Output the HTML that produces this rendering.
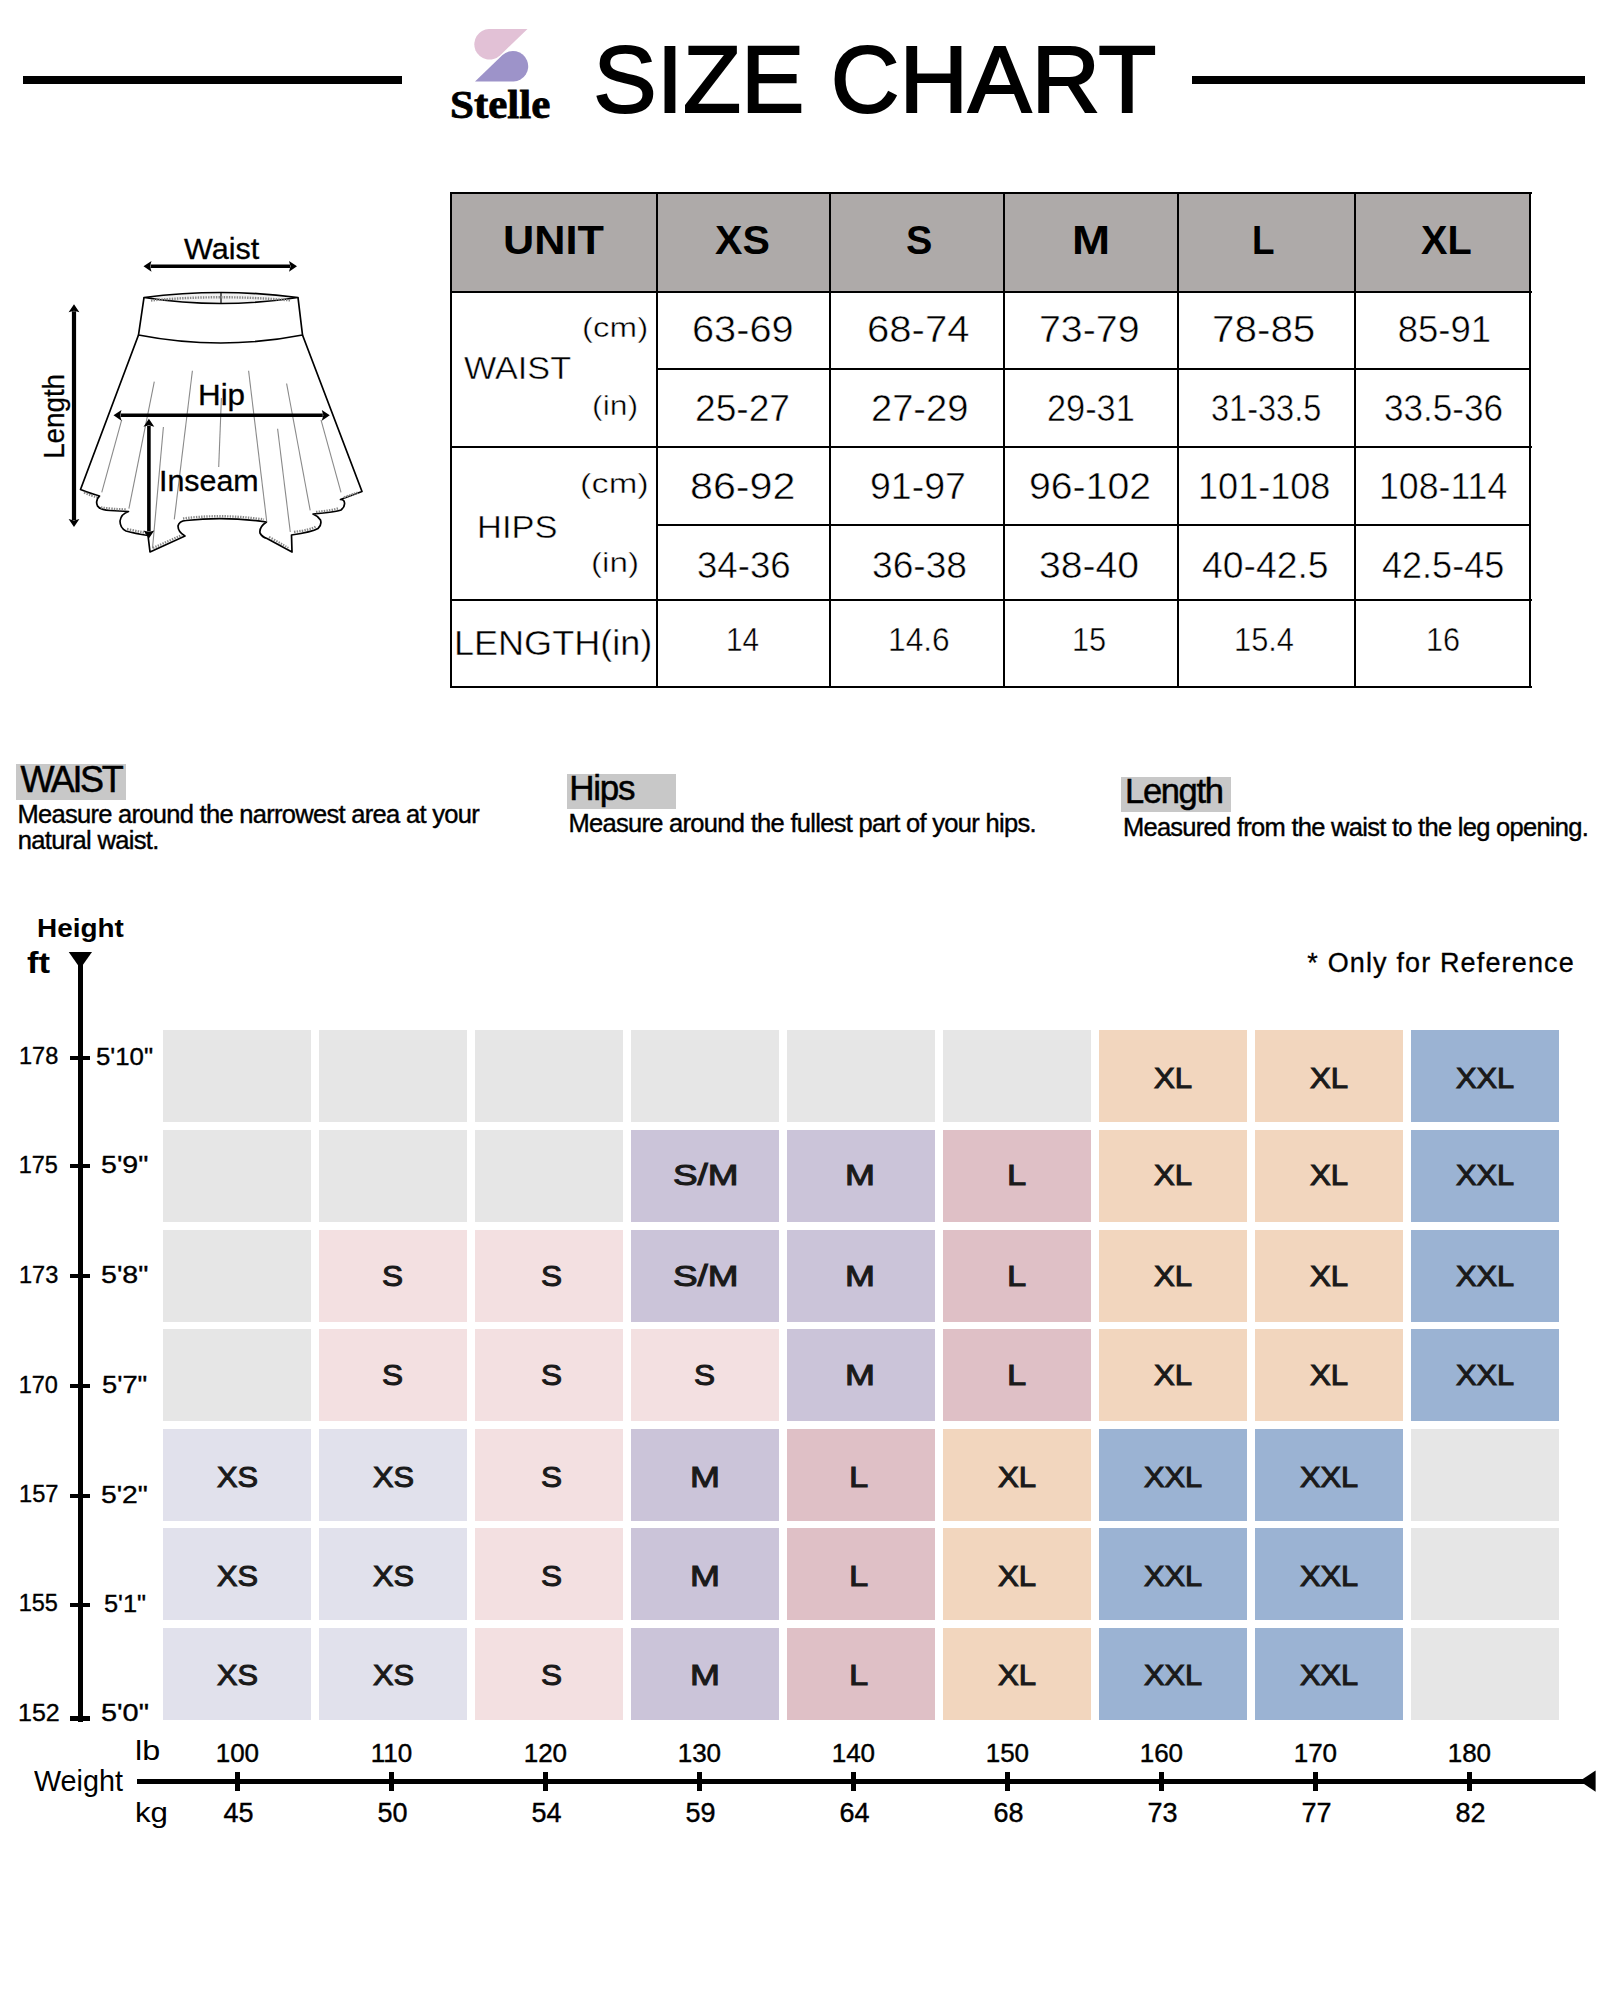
<!DOCTYPE html>
<html><head><meta charset="utf-8"><title>Size Chart</title>
<style>
html,body{margin:0;padding:0;background:#fff;}
body{width:1600px;height:2000px;position:relative;overflow:hidden;font-family:'Liberation Sans', sans-serif;}
.t{position:absolute;line-height:1;white-space:nowrap;}
.r{position:absolute;}
</style></head><body>
<div class="r" style="left:23px;top:76px;width:379px;height:7.5px;background:#000;"></div>
<div class="r" style="left:1192px;top:76px;width:393px;height:7.5px;background:#000;"></div>
<div class="t" style="left:593.33px;top:32.18px;font-size:95px;font-weight:normal;color:#000;font-family:'Liberation Sans', sans-serif;-webkit-text-stroke:2.0px #000;">SIZE CHART</div>
<svg class="r" style="left:0;top:0" width="600" height="130" viewBox="0 0 600 130">
<path d="M489,29 L527.5,29 L500,55.5 A15.3,15.3 0 1 1 489,29 Z" fill="#e2c1d6"/>
<path d="M513.5,81.6 L475,81.6 L502.5,55.1 A15.3,15.3 0 1 1 513.5,81.6 Z" fill="#9d93c9"/>
</svg>
<div class="t" style="left:449.74px;top:83.96px;font-size:41px;font-weight:bold;color:#000;font-family:'Liberation Serif', serif;transform:scaleX(1.0492);transform-origin:0 0;-webkit-text-stroke:0.8px #000;">Stelle</div>
<svg class="r" style="left:0;top:200px" width="420" height="380" viewBox="0 200 420 380">
<g fill="none" stroke="#000" stroke-width="1.7" stroke-linejoin="round">
<path d="M144,297.5 Q221,287.5 298,297.5 Q221,309.5 144,297.5 Z" fill="#f2f2f2"/>
<path d="M144,297.5 L138.5,335 Q221,351 302.5,335 L298,297.5"/>
<path d="M221,292.5 L221,303.5" stroke-width="1.2"/>
<path d="M138.5,335 L80.5,489.5 Q92,494 99.5,496 Q95,500 97.5,506 Q100,510 110,510.5 L128.5,511.5 Q121,514 120,521 Q120,528 126,531 Q135,533.5 148,535.5 L150,552 L185,536 Q178,532 178,526 Q179,521 186,520.5 Q225,516 266.5,522 Q259,527 260,533 Q262,537 267,538.5 L292,552 L291.5,535 Q312,532 318,528.5 Q322,525 320.5,520 Q318,516 313,514 Q336,512 341,510 Q346,506 344,501 Q343,499.5 340.5,499.5 L362,491.5 L302.5,335"/>
</g>
<g fill="none" stroke="#888" stroke-width="2.4" stroke-dasharray="1.4,1.2">
<path d="M151,300.5 Q221,294 291,300.5"/>
<path d="M84,492.5 Q92,496 97,497"/>
<path d="M101,507.5 Q112,509 126,509.5"/>
<path d="M127,529 Q138,531.5 147,533"/>
<path d="M153,548 L182,535"/>
<path d="M183,518.5 Q222,513.5 264,519.5"/>
<path d="M269,537 Q280,543 289,548.5"/>
<path d="M294,532 Q310,530 316,526.5"/>
<path d="M316,512 Q332,510.5 339,508"/>
<path d="M344,497.5 Q352,494.5 358,492.5"/>
</g>
<g fill="none" stroke="#8a8a8a" stroke-width="1.1">
<path d="M154.3,381.7 L128.9,508.6"/>
<path d="M192.4,370.8 L174.3,519.4"/>
<path d="M221.4,398 L218.7,466.9"/>
<path d="M248.6,370.8 L266.7,521.3"/>
<path d="M286.6,383.5 L310.2,510.4"/>
<path d="M121.7,419.8 L101.75,492.3"/>
<path d="M321,419.8 L341,492.3"/>
<path d="M163.4,427 L152.5,548.4"/>
<path d="M277.6,428.8 L290.3,532"/>
</g>
<path d="M150.5,266.3 L290,266.3" stroke="#000" stroke-width="3.4" fill="none"/><path d="M143.5,266.3 L151.5,260.90000000000003 L150.0,266.3 L151.5,271.7 Z" fill="#000"/><path d="M297,266.3 L289,260.90000000000003 L290.5,266.3 L289,271.7 Z" fill="#000"/><path d="M120.5,415.3 L322.8,415.3" stroke="#000" stroke-width="3.6" fill="none"/><path d="M113.5,415.3 L121.5,409.90000000000003 L120.0,415.3 L121.5,420.7 Z" fill="#000"/><path d="M329.8,415.3 L321.8,409.90000000000003 L323.3,415.3 L321.8,420.7 Z" fill="#000"/><path d="M74,311.2 L74,520" stroke="#000" stroke-width="4.2" fill="none"/><path d="M74,304.2 L68.6,312.2 L74,310.7 L79.4,312.2 Z" fill="#000"/><path d="M74,527 L68.6,519 L74,520.5 L79.4,519 Z" fill="#000"/><path d="M148.9,425.8 L148.9,531.5" stroke="#000" stroke-width="3.6" fill="none"/><path d="M148.9,418.8 L143.5,426.8 L148.9,425.3 L154.3,426.8 Z" fill="#000"/><path d="M148.9,538.5 L143.5,530.5 L148.9,532.0 L154.3,530.5 Z" fill="#000"/></svg>
<div class="t" style="left:184.45px;top:234.03px;font-size:29.5px;font-weight:normal;color:#000;font-family:'Liberation Sans', sans-serif;transform:scaleX(1.0349);transform-origin:0 0;-webkit-text-stroke:0.3px #000;">Waist</div>
<div class="t" style="left:198.01px;top:379.73px;font-size:29.5px;font-weight:normal;color:#000;font-family:'Liberation Sans', sans-serif;transform:scaleX(1.0631);transform-origin:0 0;-webkit-text-stroke:0.3px #000;">Hip</div>
<div class="t" style="left:158.79px;top:467.35px;font-size:29px;font-weight:normal;color:#000;font-family:'Liberation Sans', sans-serif;transform:scaleX(1.0480);transform-origin:0 0;-webkit-text-stroke:0.3px #000;">Inseam</div>
<div class="t" style="left:38.70px;top:457.1px;font-size:30px;font-family:'Liberation Sans', sans-serif;transform-origin:0 0;transform:rotate(-90deg) scaleX(0.925) translateX(-2px);-webkit-text-stroke:0.3px #000;">Length</div>
<div class="r" style="left:451px;top:193px;width:1079px;height:99px;background:#aeaaa9;"></div>
<div class="r" style="left:450px;top:192px;width:2px;height:496px;background:#000;"></div>
<div class="r" style="left:656px;top:192px;width:2px;height:496px;background:#000;"></div>
<div class="r" style="left:829px;top:192px;width:2px;height:496px;background:#000;"></div>
<div class="r" style="left:1003px;top:192px;width:2px;height:496px;background:#000;"></div>
<div class="r" style="left:1177px;top:192px;width:2px;height:496px;background:#000;"></div>
<div class="r" style="left:1354px;top:192px;width:2px;height:496px;background:#000;"></div>
<div class="r" style="left:1529px;top:192px;width:2px;height:496px;background:#000;"></div>
<div class="r" style="left:450px;top:192px;width:1082px;height:2px;background:#000;"></div>
<div class="r" style="left:450px;top:291px;width:1082px;height:2px;background:#000;"></div>
<div class="r" style="left:450px;top:446px;width:1082px;height:2px;background:#000;"></div>
<div class="r" style="left:450px;top:599px;width:1082px;height:2px;background:#000;"></div>
<div class="r" style="left:450px;top:686px;width:1082px;height:2px;background:#000;"></div>
<div class="r" style="left:657px;top:368px;width:874px;height:2px;background:#000;"></div>
<div class="r" style="left:657px;top:524px;width:874px;height:2px;background:#000;"></div>
<div class="t" style="left:503.21px;top:220.22px;font-size:40.5px;font-weight:bold;color:#000;font-family:'Liberation Sans', sans-serif;transform:scaleX(1.0673);transform-origin:0 0;">UNIT</div>
<div class="t" style="left:714.79px;top:220.22px;font-size:40.5px;font-weight:bold;color:#000;font-family:'Liberation Sans', sans-serif;transform:scaleX(1.0146);transform-origin:0 0;">XS</div>
<div class="t" style="left:905.72px;top:220.22px;font-size:40.5px;font-weight:bold;color:#000;font-family:'Liberation Sans', sans-serif;transform:scaleX(0.9753);transform-origin:0 0;">S</div>
<div class="t" style="left:1072.11px;top:220.22px;font-size:40.5px;font-weight:bold;color:#000;font-family:'Liberation Sans', sans-serif;transform:scaleX(1.1287);transform-origin:0 0;">M</div>
<div class="t" style="left:1251.71px;top:220.22px;font-size:40.5px;font-weight:bold;color:#000;font-family:'Liberation Sans', sans-serif;transform:scaleX(0.9106);transform-origin:0 0;">L</div>
<div class="t" style="left:1420.50px;top:220.22px;font-size:40.5px;font-weight:bold;color:#000;font-family:'Liberation Sans', sans-serif;transform:scaleX(0.9797);transform-origin:0 0;">XL</div>
<div class="t" style="left:691.51px;top:311.60px;font-size:36.5px;font-weight:normal;color:#000;font-family:'Liberation Sans', sans-serif;transform:scaleX(1.0881);transform-origin:0 0;-webkit-text-stroke:0.5px #fff;">63-69</div>
<div class="t" style="left:867.30px;top:311.60px;font-size:36.5px;font-weight:normal;color:#000;font-family:'Liberation Sans', sans-serif;transform:scaleX(1.0981);transform-origin:0 0;-webkit-text-stroke:0.5px #fff;">68-74</div>
<div class="t" style="left:1039.23px;top:311.60px;font-size:36.5px;font-weight:normal;color:#000;font-family:'Liberation Sans', sans-serif;transform:scaleX(1.0770);transform-origin:0 0;-webkit-text-stroke:0.5px #fff;">73-79</div>
<div class="t" style="left:1212.48px;top:311.60px;font-size:36.5px;font-weight:normal;color:#000;font-family:'Liberation Sans', sans-serif;transform:scaleX(1.1070);transform-origin:0 0;-webkit-text-stroke:0.5px #fff;">78-85</div>
<div class="t" style="left:1397.75px;top:311.60px;font-size:36.5px;font-weight:normal;color:#000;font-family:'Liberation Sans', sans-serif;-webkit-text-stroke:0.5px #fff;">85-91</div>
<div class="t" style="left:694.54px;top:390.60px;font-size:36.5px;font-weight:normal;color:#000;font-family:'Liberation Sans', sans-serif;transform:scaleX(1.0179);transform-origin:0 0;-webkit-text-stroke:0.5px #fff;">25-27</div>
<div class="t" style="left:871.10px;top:390.60px;font-size:36.5px;font-weight:normal;color:#000;font-family:'Liberation Sans', sans-serif;transform:scaleX(1.0436);transform-origin:0 0;-webkit-text-stroke:0.5px #fff;">27-29</div>
<div class="t" style="left:1046.98px;top:390.60px;font-size:36.5px;font-weight:normal;color:#000;font-family:'Liberation Sans', sans-serif;transform:scaleX(0.9400);transform-origin:0 0;-webkit-text-stroke:0.5px #fff;">29-31</div>
<div class="t" style="left:1210.58px;top:390.60px;font-size:36.5px;font-weight:normal;color:#000;font-family:'Liberation Sans', sans-serif;transform:scaleX(0.8908);transform-origin:0 0;-webkit-text-stroke:0.5px #fff;">31-33.5</div>
<div class="t" style="left:1384.18px;top:390.60px;font-size:36.5px;font-weight:normal;color:#000;font-family:'Liberation Sans', sans-serif;transform:scaleX(0.9618);transform-origin:0 0;-webkit-text-stroke:0.5px #fff;">33.5-36</div>
<div class="t" style="left:690.25px;top:468.60px;font-size:36.5px;font-weight:normal;color:#000;font-family:'Liberation Sans', sans-serif;transform:scaleX(1.1292);transform-origin:0 0;-webkit-text-stroke:0.5px #fff;">86-92</div>
<div class="t" style="left:870.22px;top:468.60px;font-size:36.5px;font-weight:normal;color:#000;font-family:'Liberation Sans', sans-serif;transform:scaleX(1.0268);transform-origin:0 0;-webkit-text-stroke:0.5px #fff;">91-97</div>
<div class="t" style="left:1028.54px;top:468.60px;font-size:36.5px;font-weight:normal;color:#000;font-family:'Liberation Sans', sans-serif;transform:scaleX(1.0732);transform-origin:0 0;-webkit-text-stroke:0.5px #fff;">96-102</div>
<div class="t" style="left:1198.09px;top:468.60px;font-size:36.5px;font-weight:normal;color:#000;font-family:'Liberation Sans', sans-serif;transform:scaleX(0.9887);transform-origin:0 0;-webkit-text-stroke:0.5px #fff;">101-108</div>
<div class="t" style="left:1378.72px;top:468.60px;font-size:36.5px;font-weight:normal;color:#000;font-family:'Liberation Sans', sans-serif;transform:scaleX(0.9774);transform-origin:0 0;-webkit-text-stroke:0.5px #fff;">108-114</div>
<div class="t" style="left:696.63px;top:548.40px;font-size:36.5px;font-weight:normal;color:#000;font-family:'Liberation Sans', sans-serif;transform:scaleX(1.0030);transform-origin:0 0;-webkit-text-stroke:0.5px #fff;">34-36</div>
<div class="t" style="left:871.61px;top:548.40px;font-size:36.5px;font-weight:normal;color:#000;font-family:'Liberation Sans', sans-serif;transform:scaleX(1.0174);transform-origin:0 0;-webkit-text-stroke:0.5px #fff;">36-38</div>
<div class="t" style="left:1039.03px;top:548.40px;font-size:36.5px;font-weight:normal;color:#000;font-family:'Liberation Sans', sans-serif;transform:scaleX(1.0727);transform-origin:0 0;-webkit-text-stroke:0.5px #fff;">38-40</div>
<div class="t" style="left:1201.66px;top:548.40px;font-size:36.5px;font-weight:normal;color:#000;font-family:'Liberation Sans', sans-serif;transform:scaleX(1.0226);transform-origin:0 0;-webkit-text-stroke:0.5px #fff;">40-42.5</div>
<div class="t" style="left:1382.19px;top:548.40px;font-size:36.5px;font-weight:normal;color:#000;font-family:'Liberation Sans', sans-serif;transform:scaleX(0.9872);transform-origin:0 0;-webkit-text-stroke:0.5px #fff;">42.5-45</div>
<div class="t" style="left:726.47px;top:623.99px;font-size:32.5px;font-weight:normal;color:#000;font-family:'Liberation Sans', sans-serif;transform:scaleX(0.9162);transform-origin:0 0;-webkit-text-stroke:0.45px #fff;">14</div>
<div class="t" style="left:887.62px;top:623.99px;font-size:32.5px;font-weight:normal;color:#000;font-family:'Liberation Sans', sans-serif;transform:scaleX(0.9765);transform-origin:0 0;-webkit-text-stroke:0.45px #fff;">14.6</div>
<div class="t" style="left:1071.69px;top:623.99px;font-size:32.5px;font-weight:normal;color:#000;font-family:'Liberation Sans', sans-serif;transform:scaleX(0.9463);transform-origin:0 0;-webkit-text-stroke:0.45px #fff;">15</div>
<div class="t" style="left:1233.89px;top:623.99px;font-size:32.5px;font-weight:normal;color:#000;font-family:'Liberation Sans', sans-serif;transform:scaleX(0.9485);transform-origin:0 0;-webkit-text-stroke:0.45px #fff;">15.4</div>
<div class="t" style="left:1426.30px;top:623.99px;font-size:32.5px;font-weight:normal;color:#000;font-family:'Liberation Sans', sans-serif;transform:scaleX(0.9425);transform-origin:0 0;-webkit-text-stroke:0.45px #fff;">16</div>
<div class="t" style="left:464.23px;top:351.61px;font-size:32px;font-weight:normal;color:#000;font-family:'Liberation Sans', sans-serif;transform:scaleX(1.0696);transform-origin:0 0;-webkit-text-stroke:0.45px #fff;">WAIST</div>
<div class="t" style="left:476.56px;top:511.11px;font-size:32px;font-weight:normal;color:#000;font-family:'Liberation Sans', sans-serif;transform:scaleX(1.0773);transform-origin:0 0;-webkit-text-stroke:0.45px #fff;">HIPS</div>
<div class="t" style="left:582.23px;top:313.52px;font-size:27.5px;font-weight:normal;color:#000;font-family:'Liberation Sans', sans-serif;transform:scaleX(1.2044);transform-origin:0 0;-webkit-text-stroke:0.45px #fff;">(cm)</div>
<div class="t" style="left:592.41px;top:391.52px;font-size:27.5px;font-weight:normal;color:#000;font-family:'Liberation Sans', sans-serif;transform:scaleX(1.1603);transform-origin:0 0;-webkit-text-stroke:0.45px #fff;">(in)</div>
<div class="t" style="left:580.35px;top:470.22px;font-size:27.5px;font-weight:normal;color:#000;font-family:'Liberation Sans', sans-serif;transform:scaleX(1.2509);transform-origin:0 0;-webkit-text-stroke:0.45px #fff;">(cm)</div>
<div class="t" style="left:590.93px;top:549.22px;font-size:27.5px;font-weight:normal;color:#000;font-family:'Liberation Sans', sans-serif;transform:scaleX(1.2071);transform-origin:0 0;-webkit-text-stroke:0.45px #fff;">(in)</div>
<div class="t" style="left:453.93px;top:624.87px;font-size:35px;font-weight:normal;color:#000;font-family:'Liberation Sans', sans-serif;transform:scaleX(1.0298);transform-origin:0 0;-webkit-text-stroke:0.45px #fff;">LENGTH(in)</div>
<div class="r" style="left:16px;top:763.5px;width:110px;height:36px;background:#c8c8c8;"></div>
<div class="t" style="left:20.42px;top:762.43px;font-size:36px;font-weight:normal;color:#000;font-family:'Liberation Sans', sans-serif;letter-spacing:-2.325px;-webkit-text-stroke:0.5px #000;">WAIST</div>
<div class="t" style="left:17.40px;top:802.41px;font-size:25.5px;font-weight:normal;color:#000;font-family:'Liberation Sans', sans-serif;letter-spacing:-0.704px;-webkit-text-stroke:0.4px #000;">Measure around the narrowest area at your</div>
<div class="t" style="left:17.78px;top:827.61px;font-size:25.5px;font-weight:normal;color:#000;font-family:'Liberation Sans', sans-serif;letter-spacing:-0.673px;-webkit-text-stroke:0.4px #000;">natural waist.</div>
<div class="r" style="left:567px;top:774px;width:109px;height:35px;background:#c8c8c8;"></div>
<div class="t" style="left:569.31px;top:770.47px;font-size:35px;font-weight:normal;color:#000;font-family:'Liberation Sans', sans-serif;letter-spacing:-1.263px;-webkit-text-stroke:0.5px #000;">Hips</div>
<div class="t" style="left:568.40px;top:811.41px;font-size:25.5px;font-weight:normal;color:#000;font-family:'Liberation Sans', sans-serif;letter-spacing:-0.699px;-webkit-text-stroke:0.4px #000;">Measure around the fullest part of your hips.</div>
<div class="r" style="left:1121px;top:777px;width:110px;height:35px;background:#c8c8c8;"></div>
<div class="t" style="left:1125.05px;top:773.70px;font-size:34.5px;font-weight:normal;color:#000;font-family:'Liberation Sans', sans-serif;letter-spacing:-1.336px;-webkit-text-stroke:0.5px #000;">Length</div>
<div class="t" style="left:1122.90px;top:815.41px;font-size:25.5px;font-weight:normal;color:#000;font-family:'Liberation Sans', sans-serif;letter-spacing:-0.719px;-webkit-text-stroke:0.4px #000;">Measured from the waist to the leg opening.</div>
<div class="t" style="left:36.87px;top:915.74px;font-size:25px;font-weight:bold;color:#000;font-family:'Liberation Sans', sans-serif;transform:scaleX(1.1162);transform-origin:0 0;">Height</div>
<div class="t" style="left:27.39px;top:948.36px;font-size:30px;font-weight:bold;color:#000;font-family:'Liberation Sans', sans-serif;transform:scaleX(1.1549);transform-origin:0 0;">ft</div>
<div class="t" style="left:1307.33px;top:949.64px;font-size:27px;font-weight:normal;color:#000;font-family:'Liberation Sans', sans-serif;letter-spacing:1.146px;-webkit-text-stroke:0.3px #000;">* Only for Reference</div>
<div class="r" style="left:163px;top:1030px;width:148px;height:92px;background:#e6e6e6;"></div>
<div class="r" style="left:319px;top:1030px;width:148px;height:92px;background:#e6e6e6;"></div>
<div class="r" style="left:475px;top:1030px;width:148px;height:92px;background:#e6e6e6;"></div>
<div class="r" style="left:631px;top:1030px;width:148px;height:92px;background:#e6e6e6;"></div>
<div class="r" style="left:787px;top:1030px;width:148px;height:92px;background:#e6e6e6;"></div>
<div class="r" style="left:943px;top:1030px;width:148px;height:92px;background:#e6e6e6;"></div>
<div class="r" style="left:1099px;top:1030px;width:148px;height:92px;background:#f2d6be;"></div>
<div class="t" style="left:1154.10px;top:1062.83px;font-size:29.5px;font-weight:normal;color:#1a1a1a;font-family:'Liberation Sans', sans-serif;transform:scaleX(1.0569);transform-origin:0 0;-webkit-text-stroke:1.05px #1a1a1a;">XL</div>
<div class="r" style="left:1255px;top:1030px;width:148px;height:92px;background:#f2d6be;"></div>
<div class="t" style="left:1310.10px;top:1062.83px;font-size:29.5px;font-weight:normal;color:#1a1a1a;font-family:'Liberation Sans', sans-serif;transform:scaleX(1.0569);transform-origin:0 0;-webkit-text-stroke:1.05px #1a1a1a;">XL</div>
<div class="r" style="left:1411px;top:1030px;width:148px;height:92px;background:#9bb3d3;"></div>
<div class="t" style="left:1456.06px;top:1062.83px;font-size:29.5px;font-weight:normal;color:#1a1a1a;font-family:'Liberation Sans', sans-serif;transform:scaleX(1.0437);transform-origin:0 0;-webkit-text-stroke:1.05px #1a1a1a;">XXL</div>
<div class="r" style="left:163px;top:1129.5px;width:148px;height:92px;background:#e6e6e6;"></div>
<div class="r" style="left:319px;top:1129.5px;width:148px;height:92px;background:#e6e6e6;"></div>
<div class="r" style="left:475px;top:1129.5px;width:148px;height:92px;background:#e6e6e6;"></div>
<div class="r" style="left:631px;top:1129.5px;width:148px;height:92px;background:#cbc4d9;"></div>
<div class="t" style="left:672.89px;top:1160.33px;font-size:29.5px;font-weight:normal;color:#1a1a1a;font-family:'Liberation Sans', sans-serif;transform:scaleX(1.2512);transform-origin:0 0;-webkit-text-stroke:1.05px #1a1a1a;">S/M</div>
<div class="r" style="left:787px;top:1129.5px;width:148px;height:92px;background:#cbc4d9;"></div>
<div class="t" style="left:844.53px;top:1160.33px;font-size:29.5px;font-weight:normal;color:#1a1a1a;font-family:'Liberation Sans', sans-serif;transform:scaleX(1.2188);transform-origin:0 0;-webkit-text-stroke:1.05px #1a1a1a;">M</div>
<div class="r" style="left:943px;top:1129.5px;width:148px;height:92px;background:#dfc0c6;"></div>
<div class="t" style="left:1006.55px;top:1160.33px;font-size:29.5px;font-weight:normal;color:#1a1a1a;font-family:'Liberation Sans', sans-serif;transform:scaleX(1.1710);transform-origin:0 0;-webkit-text-stroke:1.05px #1a1a1a;">L</div>
<div class="r" style="left:1099px;top:1129.5px;width:148px;height:92px;background:#f2d6be;"></div>
<div class="t" style="left:1154.10px;top:1160.33px;font-size:29.5px;font-weight:normal;color:#1a1a1a;font-family:'Liberation Sans', sans-serif;transform:scaleX(1.0569);transform-origin:0 0;-webkit-text-stroke:1.05px #1a1a1a;">XL</div>
<div class="r" style="left:1255px;top:1129.5px;width:148px;height:92px;background:#f2d6be;"></div>
<div class="t" style="left:1310.10px;top:1160.33px;font-size:29.5px;font-weight:normal;color:#1a1a1a;font-family:'Liberation Sans', sans-serif;transform:scaleX(1.0569);transform-origin:0 0;-webkit-text-stroke:1.05px #1a1a1a;">XL</div>
<div class="r" style="left:1411px;top:1129.5px;width:148px;height:92px;background:#9bb3d3;"></div>
<div class="t" style="left:1456.06px;top:1160.33px;font-size:29.5px;font-weight:normal;color:#1a1a1a;font-family:'Liberation Sans', sans-serif;transform:scaleX(1.0437);transform-origin:0 0;-webkit-text-stroke:1.05px #1a1a1a;">XXL</div>
<div class="r" style="left:163px;top:1229.5px;width:148px;height:92px;background:#e6e6e6;"></div>
<div class="r" style="left:319px;top:1229.5px;width:148px;height:92px;background:#f3e0e1;"></div>
<div class="t" style="left:382.48px;top:1261.43px;font-size:29.5px;font-weight:normal;color:#1a1a1a;font-family:'Liberation Sans', sans-serif;transform:scaleX(1.0683);transform-origin:0 0;-webkit-text-stroke:1.05px #1a1a1a;">S</div>
<div class="r" style="left:475px;top:1229.5px;width:148px;height:92px;background:#f3e0e1;"></div>
<div class="t" style="left:540.98px;top:1261.43px;font-size:29.5px;font-weight:normal;color:#1a1a1a;font-family:'Liberation Sans', sans-serif;transform:scaleX(1.0683);transform-origin:0 0;-webkit-text-stroke:1.05px #1a1a1a;">S</div>
<div class="r" style="left:631px;top:1229.5px;width:148px;height:92px;background:#cbc4d9;"></div>
<div class="t" style="left:672.89px;top:1261.43px;font-size:29.5px;font-weight:normal;color:#1a1a1a;font-family:'Liberation Sans', sans-serif;transform:scaleX(1.2512);transform-origin:0 0;-webkit-text-stroke:1.05px #1a1a1a;">S/M</div>
<div class="r" style="left:787px;top:1229.5px;width:148px;height:92px;background:#cbc4d9;"></div>
<div class="t" style="left:844.53px;top:1261.43px;font-size:29.5px;font-weight:normal;color:#1a1a1a;font-family:'Liberation Sans', sans-serif;transform:scaleX(1.2188);transform-origin:0 0;-webkit-text-stroke:1.05px #1a1a1a;">M</div>
<div class="r" style="left:943px;top:1229.5px;width:148px;height:92px;background:#dfc0c6;"></div>
<div class="t" style="left:1006.55px;top:1261.43px;font-size:29.5px;font-weight:normal;color:#1a1a1a;font-family:'Liberation Sans', sans-serif;transform:scaleX(1.1710);transform-origin:0 0;-webkit-text-stroke:1.05px #1a1a1a;">L</div>
<div class="r" style="left:1099px;top:1229.5px;width:148px;height:92px;background:#f2d6be;"></div>
<div class="t" style="left:1154.10px;top:1261.43px;font-size:29.5px;font-weight:normal;color:#1a1a1a;font-family:'Liberation Sans', sans-serif;transform:scaleX(1.0569);transform-origin:0 0;-webkit-text-stroke:1.05px #1a1a1a;">XL</div>
<div class="r" style="left:1255px;top:1229.5px;width:148px;height:92px;background:#f2d6be;"></div>
<div class="t" style="left:1310.10px;top:1261.43px;font-size:29.5px;font-weight:normal;color:#1a1a1a;font-family:'Liberation Sans', sans-serif;transform:scaleX(1.0569);transform-origin:0 0;-webkit-text-stroke:1.05px #1a1a1a;">XL</div>
<div class="r" style="left:1411px;top:1229.5px;width:148px;height:92px;background:#9bb3d3;"></div>
<div class="t" style="left:1456.06px;top:1261.43px;font-size:29.5px;font-weight:normal;color:#1a1a1a;font-family:'Liberation Sans', sans-serif;transform:scaleX(1.0437);transform-origin:0 0;-webkit-text-stroke:1.05px #1a1a1a;">XXL</div>
<div class="r" style="left:163px;top:1329.2px;width:148px;height:92px;background:#e6e6e6;"></div>
<div class="r" style="left:319px;top:1329.2px;width:148px;height:92px;background:#f3e0e1;"></div>
<div class="t" style="left:382.48px;top:1360.03px;font-size:29.5px;font-weight:normal;color:#1a1a1a;font-family:'Liberation Sans', sans-serif;transform:scaleX(1.0683);transform-origin:0 0;-webkit-text-stroke:1.05px #1a1a1a;">S</div>
<div class="r" style="left:475px;top:1329.2px;width:148px;height:92px;background:#f3e0e1;"></div>
<div class="t" style="left:540.98px;top:1360.03px;font-size:29.5px;font-weight:normal;color:#1a1a1a;font-family:'Liberation Sans', sans-serif;transform:scaleX(1.0683);transform-origin:0 0;-webkit-text-stroke:1.05px #1a1a1a;">S</div>
<div class="r" style="left:631px;top:1329.2px;width:148px;height:92px;background:#f3e0e1;"></div>
<div class="t" style="left:694.48px;top:1360.03px;font-size:29.5px;font-weight:normal;color:#1a1a1a;font-family:'Liberation Sans', sans-serif;transform:scaleX(1.0683);transform-origin:0 0;-webkit-text-stroke:1.05px #1a1a1a;">S</div>
<div class="r" style="left:787px;top:1329.2px;width:148px;height:92px;background:#cbc4d9;"></div>
<div class="t" style="left:844.53px;top:1360.03px;font-size:29.5px;font-weight:normal;color:#1a1a1a;font-family:'Liberation Sans', sans-serif;transform:scaleX(1.2188);transform-origin:0 0;-webkit-text-stroke:1.05px #1a1a1a;">M</div>
<div class="r" style="left:943px;top:1329.2px;width:148px;height:92px;background:#dfc0c6;"></div>
<div class="t" style="left:1006.55px;top:1360.03px;font-size:29.5px;font-weight:normal;color:#1a1a1a;font-family:'Liberation Sans', sans-serif;transform:scaleX(1.1710);transform-origin:0 0;-webkit-text-stroke:1.05px #1a1a1a;">L</div>
<div class="r" style="left:1099px;top:1329.2px;width:148px;height:92px;background:#f2d6be;"></div>
<div class="t" style="left:1154.10px;top:1360.03px;font-size:29.5px;font-weight:normal;color:#1a1a1a;font-family:'Liberation Sans', sans-serif;transform:scaleX(1.0569);transform-origin:0 0;-webkit-text-stroke:1.05px #1a1a1a;">XL</div>
<div class="r" style="left:1255px;top:1329.2px;width:148px;height:92px;background:#f2d6be;"></div>
<div class="t" style="left:1310.10px;top:1360.03px;font-size:29.5px;font-weight:normal;color:#1a1a1a;font-family:'Liberation Sans', sans-serif;transform:scaleX(1.0569);transform-origin:0 0;-webkit-text-stroke:1.05px #1a1a1a;">XL</div>
<div class="r" style="left:1411px;top:1329.2px;width:148px;height:92px;background:#9bb3d3;"></div>
<div class="t" style="left:1456.06px;top:1360.03px;font-size:29.5px;font-weight:normal;color:#1a1a1a;font-family:'Liberation Sans', sans-serif;transform:scaleX(1.0437);transform-origin:0 0;-webkit-text-stroke:1.05px #1a1a1a;">XXL</div>
<div class="r" style="left:163px;top:1429.2px;width:148px;height:92px;background:#e1e1ec;"></div>
<div class="t" style="left:216.81px;top:1462.03px;font-size:29.5px;font-weight:normal;color:#1a1a1a;font-family:'Liberation Sans', sans-serif;transform:scaleX(1.0430);transform-origin:0 0;-webkit-text-stroke:1.05px #1a1a1a;">XS</div>
<div class="r" style="left:319px;top:1429.2px;width:148px;height:92px;background:#e1e1ec;"></div>
<div class="t" style="left:372.81px;top:1462.03px;font-size:29.5px;font-weight:normal;color:#1a1a1a;font-family:'Liberation Sans', sans-serif;transform:scaleX(1.0430);transform-origin:0 0;-webkit-text-stroke:1.05px #1a1a1a;">XS</div>
<div class="r" style="left:475px;top:1429.2px;width:148px;height:92px;background:#f3e0e1;"></div>
<div class="t" style="left:540.98px;top:1462.03px;font-size:29.5px;font-weight:normal;color:#1a1a1a;font-family:'Liberation Sans', sans-serif;transform:scaleX(1.0683);transform-origin:0 0;-webkit-text-stroke:1.05px #1a1a1a;">S</div>
<div class="r" style="left:631px;top:1429.2px;width:148px;height:92px;background:#cbc4d9;"></div>
<div class="t" style="left:690.03px;top:1462.03px;font-size:29.5px;font-weight:normal;color:#1a1a1a;font-family:'Liberation Sans', sans-serif;transform:scaleX(1.2188);transform-origin:0 0;-webkit-text-stroke:1.05px #1a1a1a;">M</div>
<div class="r" style="left:787px;top:1429.2px;width:148px;height:92px;background:#dfc0c6;"></div>
<div class="t" style="left:849.05px;top:1462.03px;font-size:29.5px;font-weight:normal;color:#1a1a1a;font-family:'Liberation Sans', sans-serif;transform:scaleX(1.1710);transform-origin:0 0;-webkit-text-stroke:1.05px #1a1a1a;">L</div>
<div class="r" style="left:943px;top:1429.2px;width:148px;height:92px;background:#f2d6be;"></div>
<div class="t" style="left:998.10px;top:1462.03px;font-size:29.5px;font-weight:normal;color:#1a1a1a;font-family:'Liberation Sans', sans-serif;transform:scaleX(1.0569);transform-origin:0 0;-webkit-text-stroke:1.05px #1a1a1a;">XL</div>
<div class="r" style="left:1099px;top:1429.2px;width:148px;height:92px;background:#9bb3d3;"></div>
<div class="t" style="left:1144.06px;top:1462.03px;font-size:29.5px;font-weight:normal;color:#1a1a1a;font-family:'Liberation Sans', sans-serif;transform:scaleX(1.0437);transform-origin:0 0;-webkit-text-stroke:1.05px #1a1a1a;">XXL</div>
<div class="r" style="left:1255px;top:1429.2px;width:148px;height:92px;background:#9bb3d3;"></div>
<div class="t" style="left:1300.06px;top:1462.03px;font-size:29.5px;font-weight:normal;color:#1a1a1a;font-family:'Liberation Sans', sans-serif;transform:scaleX(1.0437);transform-origin:0 0;-webkit-text-stroke:1.05px #1a1a1a;">XXL</div>
<div class="r" style="left:1411px;top:1429.2px;width:148px;height:92px;background:#e6e6e6;"></div>
<div class="r" style="left:163px;top:1528.2px;width:148px;height:92px;background:#e1e1ec;"></div>
<div class="t" style="left:216.81px;top:1560.83px;font-size:29.5px;font-weight:normal;color:#1a1a1a;font-family:'Liberation Sans', sans-serif;transform:scaleX(1.0430);transform-origin:0 0;-webkit-text-stroke:1.05px #1a1a1a;">XS</div>
<div class="r" style="left:319px;top:1528.2px;width:148px;height:92px;background:#e1e1ec;"></div>
<div class="t" style="left:372.81px;top:1560.83px;font-size:29.5px;font-weight:normal;color:#1a1a1a;font-family:'Liberation Sans', sans-serif;transform:scaleX(1.0430);transform-origin:0 0;-webkit-text-stroke:1.05px #1a1a1a;">XS</div>
<div class="r" style="left:475px;top:1528.2px;width:148px;height:92px;background:#f3e0e1;"></div>
<div class="t" style="left:540.98px;top:1560.83px;font-size:29.5px;font-weight:normal;color:#1a1a1a;font-family:'Liberation Sans', sans-serif;transform:scaleX(1.0683);transform-origin:0 0;-webkit-text-stroke:1.05px #1a1a1a;">S</div>
<div class="r" style="left:631px;top:1528.2px;width:148px;height:92px;background:#cbc4d9;"></div>
<div class="t" style="left:690.03px;top:1560.83px;font-size:29.5px;font-weight:normal;color:#1a1a1a;font-family:'Liberation Sans', sans-serif;transform:scaleX(1.2188);transform-origin:0 0;-webkit-text-stroke:1.05px #1a1a1a;">M</div>
<div class="r" style="left:787px;top:1528.2px;width:148px;height:92px;background:#dfc0c6;"></div>
<div class="t" style="left:849.05px;top:1560.83px;font-size:29.5px;font-weight:normal;color:#1a1a1a;font-family:'Liberation Sans', sans-serif;transform:scaleX(1.1710);transform-origin:0 0;-webkit-text-stroke:1.05px #1a1a1a;">L</div>
<div class="r" style="left:943px;top:1528.2px;width:148px;height:92px;background:#f2d6be;"></div>
<div class="t" style="left:998.10px;top:1560.83px;font-size:29.5px;font-weight:normal;color:#1a1a1a;font-family:'Liberation Sans', sans-serif;transform:scaleX(1.0569);transform-origin:0 0;-webkit-text-stroke:1.05px #1a1a1a;">XL</div>
<div class="r" style="left:1099px;top:1528.2px;width:148px;height:92px;background:#9bb3d3;"></div>
<div class="t" style="left:1144.06px;top:1560.83px;font-size:29.5px;font-weight:normal;color:#1a1a1a;font-family:'Liberation Sans', sans-serif;transform:scaleX(1.0437);transform-origin:0 0;-webkit-text-stroke:1.05px #1a1a1a;">XXL</div>
<div class="r" style="left:1255px;top:1528.2px;width:148px;height:92px;background:#9bb3d3;"></div>
<div class="t" style="left:1300.06px;top:1560.83px;font-size:29.5px;font-weight:normal;color:#1a1a1a;font-family:'Liberation Sans', sans-serif;transform:scaleX(1.0437);transform-origin:0 0;-webkit-text-stroke:1.05px #1a1a1a;">XXL</div>
<div class="r" style="left:1411px;top:1528.2px;width:148px;height:92px;background:#e6e6e6;"></div>
<div class="r" style="left:163px;top:1628px;width:148px;height:92px;background:#e1e1ec;"></div>
<div class="t" style="left:216.81px;top:1659.73px;font-size:29.5px;font-weight:normal;color:#1a1a1a;font-family:'Liberation Sans', sans-serif;transform:scaleX(1.0430);transform-origin:0 0;-webkit-text-stroke:1.05px #1a1a1a;">XS</div>
<div class="r" style="left:319px;top:1628px;width:148px;height:92px;background:#e1e1ec;"></div>
<div class="t" style="left:372.81px;top:1659.73px;font-size:29.5px;font-weight:normal;color:#1a1a1a;font-family:'Liberation Sans', sans-serif;transform:scaleX(1.0430);transform-origin:0 0;-webkit-text-stroke:1.05px #1a1a1a;">XS</div>
<div class="r" style="left:475px;top:1628px;width:148px;height:92px;background:#f3e0e1;"></div>
<div class="t" style="left:540.98px;top:1659.73px;font-size:29.5px;font-weight:normal;color:#1a1a1a;font-family:'Liberation Sans', sans-serif;transform:scaleX(1.0683);transform-origin:0 0;-webkit-text-stroke:1.05px #1a1a1a;">S</div>
<div class="r" style="left:631px;top:1628px;width:148px;height:92px;background:#cbc4d9;"></div>
<div class="t" style="left:690.03px;top:1659.73px;font-size:29.5px;font-weight:normal;color:#1a1a1a;font-family:'Liberation Sans', sans-serif;transform:scaleX(1.2188);transform-origin:0 0;-webkit-text-stroke:1.05px #1a1a1a;">M</div>
<div class="r" style="left:787px;top:1628px;width:148px;height:92px;background:#dfc0c6;"></div>
<div class="t" style="left:849.05px;top:1659.73px;font-size:29.5px;font-weight:normal;color:#1a1a1a;font-family:'Liberation Sans', sans-serif;transform:scaleX(1.1710);transform-origin:0 0;-webkit-text-stroke:1.05px #1a1a1a;">L</div>
<div class="r" style="left:943px;top:1628px;width:148px;height:92px;background:#f2d6be;"></div>
<div class="t" style="left:998.10px;top:1659.73px;font-size:29.5px;font-weight:normal;color:#1a1a1a;font-family:'Liberation Sans', sans-serif;transform:scaleX(1.0569);transform-origin:0 0;-webkit-text-stroke:1.05px #1a1a1a;">XL</div>
<div class="r" style="left:1099px;top:1628px;width:148px;height:92px;background:#9bb3d3;"></div>
<div class="t" style="left:1144.06px;top:1659.73px;font-size:29.5px;font-weight:normal;color:#1a1a1a;font-family:'Liberation Sans', sans-serif;transform:scaleX(1.0437);transform-origin:0 0;-webkit-text-stroke:1.05px #1a1a1a;">XXL</div>
<div class="r" style="left:1255px;top:1628px;width:148px;height:92px;background:#9bb3d3;"></div>
<div class="t" style="left:1300.06px;top:1659.73px;font-size:29.5px;font-weight:normal;color:#1a1a1a;font-family:'Liberation Sans', sans-serif;transform:scaleX(1.0437);transform-origin:0 0;-webkit-text-stroke:1.05px #1a1a1a;">XXL</div>
<div class="r" style="left:1411px;top:1628px;width:148px;height:92px;background:#e6e6e6;"></div>
<div class="r" style="left:77.5px;top:962px;width:5.2px;height:759.5px;background:#000;"></div>
<svg class="r" style="left:60px;top:945px" width="40" height="30"><path d="M8.75,7 L32,7 L20.3,23.5 Z" fill="#000"/></svg>
<div class="r" style="left:70px;top:1055.5px;width:20px;height:4.2px;background:#000;"></div>
<div class="t" style="left:18.73px;top:1045.41px;font-size:23.5px;font-weight:normal;color:#000;font-family:'Liberation Sans', sans-serif;transform:scaleX(1.0021);transform-origin:0 0;-webkit-text-stroke:0.35px #000;">178</div>
<div class="t" style="left:96.47px;top:1044.56px;font-size:24.5px;font-weight:normal;color:#000;font-family:'Liberation Sans', sans-serif;transform:scaleX(1.0527);transform-origin:0 0;-webkit-text-stroke:0.35px #000;">5'10&quot;</div>
<div class="r" style="left:70px;top:1164px;width:20px;height:4.2px;background:#000;"></div>
<div class="t" style="left:18.74px;top:1153.91px;font-size:23.5px;font-weight:normal;color:#000;font-family:'Liberation Sans', sans-serif;-webkit-text-stroke:0.35px #000;">175</div>
<div class="t" style="left:101.36px;top:1153.06px;font-size:24.5px;font-weight:normal;color:#000;font-family:'Liberation Sans', sans-serif;transform:scaleX(1.1662);transform-origin:0 0;-webkit-text-stroke:0.35px #000;">5'9&quot;</div>
<div class="r" style="left:70px;top:1274px;width:20px;height:4.2px;background:#000;"></div>
<div class="t" style="left:18.73px;top:1263.91px;font-size:23.5px;font-weight:normal;color:#000;font-family:'Liberation Sans', sans-serif;transform:scaleX(1.0021);transform-origin:0 0;-webkit-text-stroke:0.35px #000;">173</div>
<div class="t" style="left:101.36px;top:1263.06px;font-size:24.5px;font-weight:normal;color:#000;font-family:'Liberation Sans', sans-serif;transform:scaleX(1.1662);transform-origin:0 0;-webkit-text-stroke:0.35px #000;">5'8&quot;</div>
<div class="r" style="left:70px;top:1384px;width:20px;height:4.2px;background:#000;"></div>
<div class="t" style="left:18.74px;top:1373.91px;font-size:23.5px;font-weight:normal;color:#000;font-family:'Liberation Sans', sans-serif;-webkit-text-stroke:0.35px #000;">170</div>
<div class="t" style="left:102.41px;top:1373.06px;font-size:24.5px;font-weight:normal;color:#000;font-family:'Liberation Sans', sans-serif;transform:scaleX(1.1144);transform-origin:0 0;-webkit-text-stroke:0.35px #000;">5'7&quot;</div>
<div class="r" style="left:70px;top:1493.5px;width:20px;height:4.2px;background:#000;"></div>
<div class="t" style="left:18.73px;top:1483.41px;font-size:23.5px;font-weight:normal;color:#000;font-family:'Liberation Sans', sans-serif;transform:scaleX(1.0069);transform-origin:0 0;-webkit-text-stroke:0.35px #000;">157</div>
<div class="t" style="left:101.37px;top:1482.56px;font-size:24.5px;font-weight:normal;color:#000;font-family:'Liberation Sans', sans-serif;transform:scaleX(1.1532);transform-origin:0 0;-webkit-text-stroke:0.35px #000;">5'2&quot;</div>
<div class="r" style="left:70px;top:1602.5px;width:20px;height:4.2px;background:#000;"></div>
<div class="t" style="left:18.74px;top:1592.41px;font-size:23.5px;font-weight:normal;color:#000;font-family:'Liberation Sans', sans-serif;-webkit-text-stroke:0.35px #000;">155</div>
<div class="t" style="left:103.98px;top:1591.56px;font-size:24.5px;font-weight:normal;color:#000;font-family:'Liberation Sans', sans-serif;transform:scaleX(1.0366);transform-origin:0 0;-webkit-text-stroke:0.35px #000;">5'1&quot;</div>
<div class="r" style="left:70px;top:1716.3px;width:20px;height:5px;background:#000;"></div>
<div class="t" style="left:17.63px;top:1701.61px;font-size:23.5px;font-weight:normal;color:#000;font-family:'Liberation Sans', sans-serif;transform:scaleX(1.0621);transform-origin:0 0;-webkit-text-stroke:0.35px #000;">152</div>
<div class="t" style="left:100.84px;top:1700.76px;font-size:24.5px;font-weight:normal;color:#000;font-family:'Liberation Sans', sans-serif;transform:scaleX(1.1791);transform-origin:0 0;-webkit-text-stroke:0.35px #000;">5'0&quot;</div>
<div class="r" style="left:137.3px;top:1778.5px;width:1450px;height:5.4px;background:#000;"></div>
<svg class="r" style="left:1575px;top:1765px" width="25" height="32"><path d="M4.6,16.1 L20.6,5.4 L20.6,26.8 Z" fill="#000"/></svg>
<div class="r" style="left:234.9px;top:1771.8px;width:5px;height:19px;background:#000;"></div>
<div class="t" style="top:1739.79px;font-size:26px;font-weight:normal;color:#000;font-family:'Liberation Sans', sans-serif;left:-162.60px;width:800px;text-align:center;-webkit-text-stroke:0.4px #000;">100</div>
<div class="t" style="top:1800.14px;font-size:27px;font-weight:normal;color:#000;font-family:'Liberation Sans', sans-serif;left:-161.40px;width:800px;text-align:center;-webkit-text-stroke:0.4px #000;">45</div>
<div class="r" style="left:388.9px;top:1771.8px;width:5px;height:19px;background:#000;"></div>
<div class="t" style="top:1739.79px;font-size:26px;font-weight:normal;color:#000;font-family:'Liberation Sans', sans-serif;left:-8.60px;width:800px;text-align:center;-webkit-text-stroke:0.4px #000;">110</div>
<div class="t" style="top:1800.14px;font-size:27px;font-weight:normal;color:#000;font-family:'Liberation Sans', sans-serif;left:-7.40px;width:800px;text-align:center;-webkit-text-stroke:0.4px #000;">50</div>
<div class="r" style="left:542.9px;top:1771.8px;width:5px;height:19px;background:#000;"></div>
<div class="t" style="top:1739.79px;font-size:26px;font-weight:normal;color:#000;font-family:'Liberation Sans', sans-serif;left:145.40px;width:800px;text-align:center;-webkit-text-stroke:0.4px #000;">120</div>
<div class="t" style="top:1800.14px;font-size:27px;font-weight:normal;color:#000;font-family:'Liberation Sans', sans-serif;left:146.60px;width:800px;text-align:center;-webkit-text-stroke:0.4px #000;">54</div>
<div class="r" style="left:696.9px;top:1771.8px;width:5px;height:19px;background:#000;"></div>
<div class="t" style="top:1739.79px;font-size:26px;font-weight:normal;color:#000;font-family:'Liberation Sans', sans-serif;left:299.40px;width:800px;text-align:center;-webkit-text-stroke:0.4px #000;">130</div>
<div class="t" style="top:1800.14px;font-size:27px;font-weight:normal;color:#000;font-family:'Liberation Sans', sans-serif;left:300.60px;width:800px;text-align:center;-webkit-text-stroke:0.4px #000;">59</div>
<div class="r" style="left:850.9px;top:1771.8px;width:5px;height:19px;background:#000;"></div>
<div class="t" style="top:1739.79px;font-size:26px;font-weight:normal;color:#000;font-family:'Liberation Sans', sans-serif;left:453.40px;width:800px;text-align:center;-webkit-text-stroke:0.4px #000;">140</div>
<div class="t" style="top:1800.14px;font-size:27px;font-weight:normal;color:#000;font-family:'Liberation Sans', sans-serif;left:454.60px;width:800px;text-align:center;-webkit-text-stroke:0.4px #000;">64</div>
<div class="r" style="left:1004.9px;top:1771.8px;width:5px;height:19px;background:#000;"></div>
<div class="t" style="top:1739.79px;font-size:26px;font-weight:normal;color:#000;font-family:'Liberation Sans', sans-serif;left:607.40px;width:800px;text-align:center;-webkit-text-stroke:0.4px #000;">150</div>
<div class="t" style="top:1800.14px;font-size:27px;font-weight:normal;color:#000;font-family:'Liberation Sans', sans-serif;left:608.60px;width:800px;text-align:center;-webkit-text-stroke:0.4px #000;">68</div>
<div class="r" style="left:1158.9px;top:1771.8px;width:5px;height:19px;background:#000;"></div>
<div class="t" style="top:1739.79px;font-size:26px;font-weight:normal;color:#000;font-family:'Liberation Sans', sans-serif;left:761.40px;width:800px;text-align:center;-webkit-text-stroke:0.4px #000;">160</div>
<div class="t" style="top:1800.14px;font-size:27px;font-weight:normal;color:#000;font-family:'Liberation Sans', sans-serif;left:762.60px;width:800px;text-align:center;-webkit-text-stroke:0.4px #000;">73</div>
<div class="r" style="left:1312.9px;top:1771.8px;width:5px;height:19px;background:#000;"></div>
<div class="t" style="top:1739.79px;font-size:26px;font-weight:normal;color:#000;font-family:'Liberation Sans', sans-serif;left:915.40px;width:800px;text-align:center;-webkit-text-stroke:0.4px #000;">170</div>
<div class="t" style="top:1800.14px;font-size:27px;font-weight:normal;color:#000;font-family:'Liberation Sans', sans-serif;left:916.60px;width:800px;text-align:center;-webkit-text-stroke:0.4px #000;">77</div>
<div class="r" style="left:1466.9px;top:1771.8px;width:5px;height:19px;background:#000;"></div>
<div class="t" style="top:1739.79px;font-size:26px;font-weight:normal;color:#000;font-family:'Liberation Sans', sans-serif;left:1069.40px;width:800px;text-align:center;-webkit-text-stroke:0.4px #000;">180</div>
<div class="t" style="top:1800.14px;font-size:27px;font-weight:normal;color:#000;font-family:'Liberation Sans', sans-serif;left:1070.60px;width:800px;text-align:center;-webkit-text-stroke:0.4px #000;">82</div>
<div class="t" style="left:135.11px;top:1736.80px;font-size:28px;font-weight:normal;color:#000;font-family:'Liberation Sans', sans-serif;transform:scaleX(1.1567);transform-origin:0 0;">lb</div>
<div class="t" style="left:135.19px;top:1798.90px;font-size:28px;font-weight:normal;color:#000;font-family:'Liberation Sans', sans-serif;transform:scaleX(1.1158);transform-origin:0 0;">kg</div>
<div class="t" style="left:33.66px;top:1766.03px;font-size:29.5px;font-weight:normal;color:#000;font-family:'Liberation Sans', sans-serif;transform:scaleX(0.9743);transform-origin:0 0;">Weight</div>
</body></html>
